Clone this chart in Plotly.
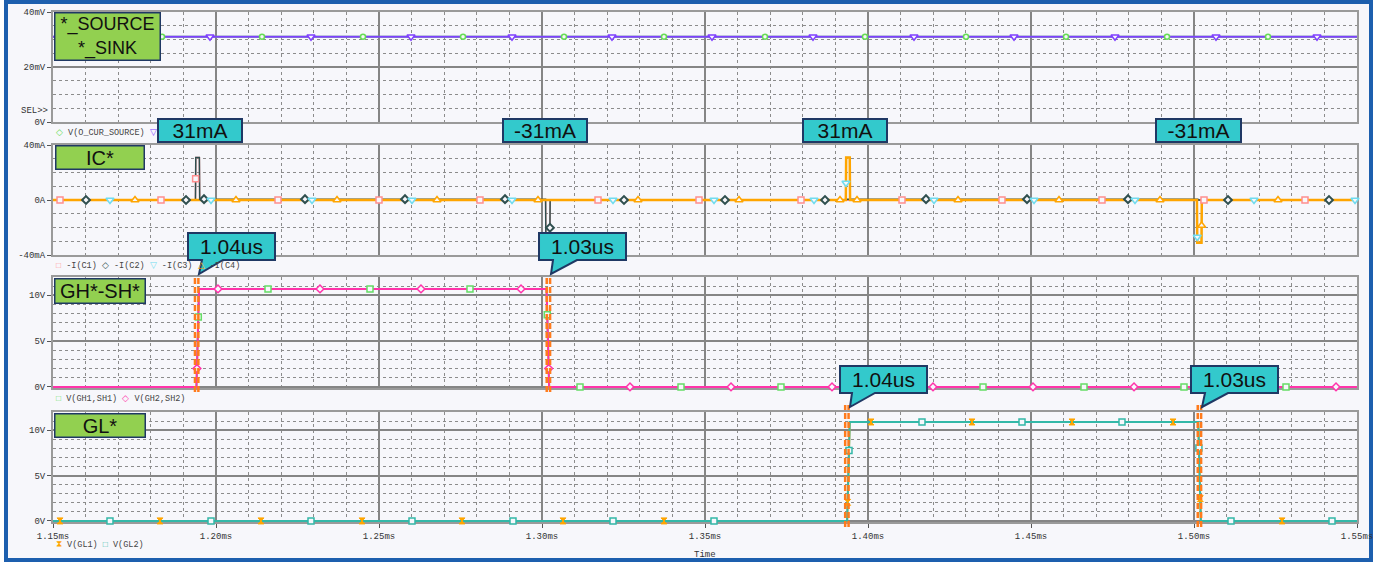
import numpy as np
import plotly.graph_objects as go

W, H = 1376, 563
BG = "#f7f7fb"

# ---------------- data (time in ms) ----------------
x_ticks = [1.15, 1.20, 1.25, 1.30, 1.35, 1.40, 1.45, 1.50, 1.55]
x_tick_labels = ["1.15ms", "1.20ms", "1.25ms", "1.30ms", "1.35ms",
                 "1.40ms", "1.45ms", "1.50ms", "1.55ms"]

# Panel 1: current-sense outputs (mV)
t_sense = [1.15, 1.55]
v_source = [31, 31]
v_sink = [31, 31]
mk_source = [1.15245, 1.18344, 1.21411, 1.24509, 1.27577, 1.30675, 1.33742,
             1.36840, 1.39908, 1.43006, 1.46074, 1.49172, 1.52270]
mk_sink = [1.16748, 1.19816, 1.22914, 1.25982, 1.29080, 1.32147, 1.35215,
           1.38313, 1.41411, 1.44479, 1.47577, 1.50675, 1.53773]

# Panel 2: bootstrap / supply capacitor currents (mA)
pulse_peak = [31, -31, 31, -31]          # measured pulse amplitudes
t_c12 = [1.15, 1.1937, 1.1938, 1.1949, 1.1950, 1.3011, 1.3012, 1.3024, 1.3025, 1.55]
i_c1 = [0, 0, pulse_peak[0], pulse_peak[0], 0, 0, pulse_peak[1], pulse_peak[1], 0, 0]
t_c2 = [1.15, 1.1937, 1.1938, 1.1949, 1.1950, 1.3011, 1.3012, 1.3024, 1.3025,
        1.3930, 1.3931, 1.5012, 1.5013, 1.55]
i_c2 = [0, 0, pulse_peak[0], pulse_peak[0], 0.6, 0.6, pulse_peak[1], pulse_peak[1], 0,
        0, 0.6, 0.6, 0, 0]
t_c34 = [1.15, 1.3932, 1.3933, 1.3944, 1.3945, 1.5009, 1.5010, 1.5023, 1.5024, 1.55]
i_c3 = [0, 0, pulse_peak[2], pulse_peak[2], 0, 0, pulse_peak[3], pulse_peak[3], 0, 0]
i_c4 = [0, 0, pulse_peak[2], pulse_peak[2], 0, 0, pulse_peak[3], pulse_peak[3], 0, 0]
mk_c1 = [1.15215, 1.18313, 1.19375, 1.21902, 1.25000, 1.28098, 1.31718, 1.34816,
         1.37945, 1.41043, 1.44110, 1.47178, 1.50307, 1.53405]
mk_c2 = [1.16012, 1.19080, 1.19632, 1.22730, 1.25798, 1.28865, 1.302435, 1.32515,
         1.35613, 1.38681, 1.41779, 1.44877, 1.47975, 1.51043, 1.54141]
mk_c3 = [1.16748, 1.19847, 1.22945, 1.26012, 1.29080, 1.32178, 1.35276, 1.38344,
         1.39324, 1.42025, 1.45092, 1.48190, 1.500987, 1.51840, 1.54939]
mk_c4 = [1.17515, 1.20613, 1.23712, 1.26779, 1.29877, 1.32945, 1.36043, 1.39141,
         1.39663, 1.42761, 1.45859, 1.48957, 1.50234, 1.52577]

# Panel 3: high-side gate-source voltages (V)
t_gh = [1.15, 1.1940, 1.1948, 1.3014, 1.3022, 1.55]
v_gh1 = [0, 0, 10.7, 10.7, 0, 0]
v_gh2 = [0, 0, 10.7, 10.7, 0, 0]
mk_gh1 = [1.19457, 1.21595, 1.24724, 1.27791, 1.30161, 1.31166, 1.34264, 1.37331,
          1.40429, 1.43528, 1.46626, 1.49693, 1.52822]
mk_gh2 = [1.19415, 1.20061, 1.23190, 1.26288, 1.29356, 1.30205, 1.32699, 1.35798,
          1.38896, 1.41994, 1.45061, 1.48160, 1.51258, 1.54356]

# Panel 4: low-side gate voltages (V)
t_gl = [1.15, 1.3936, 1.3944, 1.5013, 1.5021, 1.55]
v_gl1 = [0, 0, 10.9, 10.9, 0, 0]
v_gl2 = [0, 0, 10.9, 10.9, 0, 0]
mk_gl1 = [1.15215, 1.18282, 1.21380, 1.24479, 1.27546, 1.30644, 1.33742, 1.39375,
          1.40092, 1.43190, 1.46258, 1.49356, 1.50192, 1.52701]
mk_gl2 = [1.16748, 1.19847, 1.22914, 1.26012, 1.29110, 1.32178, 1.35276, 1.39417,
          1.41656, 1.44724, 1.47791, 1.50151, 1.51135, 1.54233]

# Cursor pairs: (first cursor time in ms, measured delay in us)
cursor_gh = [(1.19355, 1.04), (1.30145, 1.03)]
cursor_gl = [(1.39300, 1.04), (1.50115, 1.03)]


# ---------------- helpers ----------------
def px(x):
    return x / W


def py(y):
    return 1 - y / H


fig = go.Figure()


def add_line(t, v, color, width, n):
    fig.add_trace(go.Scatter(
        x=t, y=v, mode="lines", line=dict(color=color, width=width),
        xaxis="x" if n == 1 else f"x{n}", yaxis="y" if n == 1 else f"y{n}",
        hoverinfo="skip", showlegend=False))


def add_marks(ts, t, v, symbol, color, n, size=7, fill=BG, lw=1.5):
    fig.add_trace(go.Scatter(
        x=ts, y=np.interp(ts, t, v), mode="markers", cliponaxis=False,
        marker=dict(symbol=symbol, size=size, color=fill,
                    line=dict(color=color, width=lw)),
        xaxis="x" if n == 1 else f"x{n}", yaxis="y" if n == 1 else f"y{n}",
        hoverinfo="skip", showlegend=False))


C_PURPLE = "#7f3fff"
C_SRC = "#66dd55"
C_C1 = "#ff8f8f"
C_C2 = "#2f4f4f"
C_C3 = "#6fdcef"
C_C4 = "#ffa500"
C_GH1 = "#66dd66"
C_GH2 = "#ff33aa"
C_GL1 = "#ffa500"
C_GL2 = "#33b8a8"

# panel 1
add_line(t_sense, v_source, C_SRC, 2, 1)
add_line(t_sense, v_sink, C_PURPLE, 2, 1)
add_marks(mk_source, t_sense, v_source, "circle", C_SRC, 1, size=5)
add_marks(mk_sink, t_sense, v_sink, "triangle-down", C_PURPLE, 1, size=7)

# panel 2
add_line(t_c12, i_c1, C_C1, 1.5, 2)
add_line(t_c34, i_c3, C_C3, 1.5, 2)
add_line(t_c2, i_c2, C_C2, 1.5, 2)
add_line(t_c34, i_c4, C_C4, 2.5, 2)
add_marks(mk_c1, t_c12, i_c1, "square", C_C1, 2, size=6)
add_marks(mk_c2, t_c2, i_c2, "diamond", C_C2, 2, size=6, lw=2)
add_marks(mk_c3, t_c34, i_c3, "triangle-down", C_C3, 2, size=7)
add_marks(mk_c4, t_c34, i_c4, "triangle-up", C_C4, 2, size=7)

# panel 3
add_line(t_gh, v_gh1, C_GH1, 2, 3)
add_line(t_gh, v_gh2, C_GH2, 2, 3)
add_marks(mk_gh1, t_gh, v_gh1, "square", C_GH1, 3, size=6)
add_marks(mk_gh2, t_gh, v_gh2, "diamond", C_GH2, 3, size=6)

# panel 4
add_line(t_gl, v_gl1, C_GL1, 2, 4)
add_line(t_gl, v_gl2, C_GL2, 2, 4)
add_marks(mk_gl1, t_gl, v_gl1, "hourglass", C_GL1, 4, size=6, fill=C_GL1, lw=1)
add_marks(mk_gl2, t_gl, v_gl2, "square", C_GL2, 4, size=6)

# ---------------- axes ----------------
tick_font = dict(family="Liberation Mono", size=9, color="#333")
panels = [(12, 122), (145, 255), (277, 388), (412, 522)]
y_cfg = [
    dict(range=[0, 40], tickvals=[0, 20, 40], ticktext=["0V", "20mV", "40mV"], minor=5),
    dict(range=[-40, 40], tickvals=[-40, 0, 40], ticktext=["-40mA", "0A", "40mA"], minor=10),
    dict(range=[-0.12, 12], tickvals=[0, 5, 10], ticktext=["0V", "5V", "10V"], minor=1),
    dict(range=[-0.12, 12], tickvals=[0, 5, 10], ticktext=["0V", "5V", "10V"], minor=1),
]
layout_axes = {}
for i, ((top, bot), yc) in enumerate(zip(panels, y_cfg), start=1):
    xn = "xaxis" if i == 1 else f"xaxis{i}"
    yn = "yaxis" if i == 1 else f"yaxis{i}"
    layout_axes[xn] = dict(
        domain=[px(53), px(1357)], range=[1.15, 1.55],
        anchor="y" if i == 1 else f"y{i}",
        matches=None if i == 1 else "x",
        tickmode="array", tickvals=x_ticks,
        ticktext=x_tick_labels, showticklabels=(i == 4),
        ticks="outside" if i == 4 else "", ticklen=4, tickcolor="#555",
        tickfont=tick_font, automargin=False, layer="below traces",
        showgrid=True, gridcolor="#858585", gridwidth=1.5,
        minor=dict(tick0=1.15, dtick=0.01, showgrid=True, griddash="dot",
                   gridcolor="#8c8c8c", gridwidth=1),
        showline=True, mirror=True, linecolor="#9a9a9a", linewidth=2,
        zeroline=False, fixedrange=True,
    )
    layout_axes[yn] = dict(
        domain=[py(bot), py(top)], range=yc["range"],
        anchor="x" if i == 1 else f"x{i}",
        tickmode="array", tickvals=yc["tickvals"], ticktext=yc["ticktext"],
        ticks="outside", ticklen=4, tickcolor="#555", tickfont=tick_font,
        automargin=False, layer="below traces",
        showgrid=True, gridcolor="#858585", gridwidth=1.5,
        minor=dict(tick0=0, dtick=yc["minor"], showgrid=True,
                   griddash="dot", gridcolor="#8c8c8c", gridwidth=1),
        showline=True, mirror=True, linecolor="#9a9a9a", linewidth=2,
        zeroline=False, fixedrange=True,
    )

# ---------------- shapes ----------------
shapes = [dict(type="rect", xref="paper", yref="paper", layer="below",
               x0=px(6), x1=px(1371), y0=py(560), y1=py(2),
               fillcolor=BG, line=dict(color="#1d5fae", width=4))]

CURSOR = dict(color="#ff7b1c", width=2.5, dash="6px,3px")
cursor_sets = [("x3", 275, 392, cursor_gh), ("x4", 405, 527, cursor_gl)]
for xr, ytop, ybot, pairs in cursor_sets:
    for t0, d in pairs:
        for t in (t0, t0 + d / 1000.0):
            shapes.append(dict(type="line", xref=xr, yref="paper", x0=t, x1=t,
                               y0=py(ybot), y1=py(ytop), line=CURSOR, layer="above"))


def callout_path(x0, y0, x1, y1, bl, br, tx, ty):
    pts = [(x0, y0), (x1, y0), (x1, y1), (br, y1), (tx, ty), (bl, y1), (x0, y1)]
    return "M" + " L".join(f"{px(a):.5f},{py(b):.5f}" for a, b in pts) + " Z"


CYAN = "#33c9cc"
NAVY = "#1f3864"
delay_boxes = [
    (188, 233, 275, 260, 202, 223, 199, 274),
    (539, 233, 626, 260, 553, 577, 551, 274),
    (840, 366, 927, 393, 852, 875, 850, 407),
    (1191, 366, 1278, 393, 1205, 1228, 1202, 407),
]
delays = [c[1] for c in cursor_gh] + [c[1] for c in cursor_gl]
annotations = []

# ---------------- legends / axis text ----------------
leg_font = dict(family="Liberation Mono", size=8.5, color="#444")


def sym(ch, color):
    return f'<span style="color:{color}">{ch}</span>'


legends = [
    (133, f'{sym("◇", C_SRC)} V(O_CUR_SOURCE) {sym("▽", C_PURPLE)}'),
    (266, f'{sym("□", C_C1)} -I(C1) {sym("◇", C_C2)} -I(C2) '
          f'{sym("▽", C_C3)} -I(C3) {sym("△", C_C4)} -I(C4)'),
    (399, f'{sym("□", C_GH1)} V(GH1,SH1) {sym("◇", C_GH2)} V(GH2,SH2)'),
    (545, f'{sym("⧗", C_GL1)} V(GL1) {sym("□", C_GL2)} V(GL2)'),
]
for yy, txt in legends:
    annotations.append(dict(xref="paper", yref="paper", x=px(54), y=py(yy),
                            xanchor="left", yanchor="middle", text=txt,
                            showarrow=False, font=leg_font))
annotations.append(dict(xref="paper", yref="paper", x=px(50), y=py(111),
                        xanchor="right", yanchor="middle", text="SEL>>",
                        showarrow=False, font=tick_font))
annotations.append(dict(xref="paper", yref="paper", x=px(705), y=py(555),
                        xanchor="center", yanchor="middle", text="Time",
                        showarrow=False, font=tick_font))

# green signal-name boxes
GREEN = "#92d050"
name_boxes = [
    ("*_SOURCE<br>*_SINK", 54, 12, 161, 61, 18),
    ("IC*", 55, 145, 145, 170, 20),
    ("GH*-SH*", 54, 278, 146, 304, 20),
    ("GL*", 54, 413, 146, 438, 20),
]
for txt, x0, y0, x1, y1, fs in name_boxes:
    annotations.append(dict(
        xref="paper", yref="paper", x=px(x0), y=py(y0), xanchor="left", yanchor="top",
        width=x1 - x0 - 3, height=y1 - y0 - 3, text=txt, showarrow=False,
        bgcolor=GREEN, bordercolor=NAVY, borderwidth=1.5, borderpad=0,
        align="center", valign="middle",
        font=dict(family="Liberation Sans", size=fs, color="#111")))

# current value boxes
amp_boxes = [(157, 118, 243, 143), (502, 118, 588, 143),
             (802, 118, 888, 143), (1155, 118, 1242, 143)]
for val, (x0, y0, x1, y1) in zip(pulse_peak, amp_boxes):
    annotations.append(dict(
        xref="paper", yref="paper", x=px(x0), y=py(y0), xanchor="left", yanchor="top",
        width=x1 - x0 - 4, height=y1 - y0 - 4, text=f"{val}mA", showarrow=False,
        bgcolor=CYAN, bordercolor=NAVY, borderwidth=2, borderpad=0,
        align="center", valign="middle",
        font=dict(family="Liberation Sans", size=21, color="#111")))

# delay callouts with pointer tails
for d, (x0, y0, x1, y1, bl, br, tx, ty) in zip(delays, delay_boxes):
    shapes.append(dict(type="path", xref="paper", yref="paper", layer="above",
                       path=callout_path(x0, y0, x1, y1, bl, br, tx, ty),
                       fillcolor=CYAN, line=dict(color=NAVY, width=2)))
    annotations.append(dict(
        xref="paper", yref="paper", x=px((x0 + x1) / 2), y=py((y0 + y1) / 2),
        xanchor="center", yanchor="middle", text=f"{d:.2f}us", showarrow=False,
        font=dict(family="Liberation Sans", size=21, color="#111")))

fig.update_layout(
    width=W, height=H,
    margin=dict(l=0, r=0, t=0, b=0, pad=0, autoexpand=False),
    paper_bgcolor="white", plot_bgcolor="rgba(0,0,0,0)",
    showlegend=False, shapes=shapes, annotations=annotations,
    **layout_axes,
)
fig.write_html("out.html")
